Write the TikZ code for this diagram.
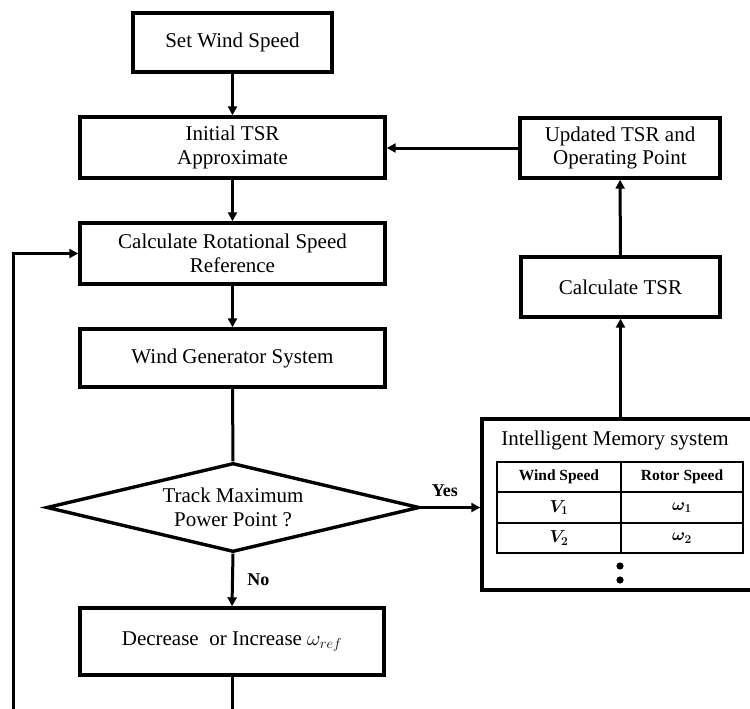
\documentclass[tikz,border=0pt]{standalone}
\usepackage{fontspec}
\setmainfont{Liberation Serif}
\usepackage{bm}
\usetikzlibrary{shapes.geometric,arrows.meta}
\begin{document}
\begin{tikzpicture}[x=1pt,y=-1pt,
  box/.style={draw,line width=3.4pt,inner sep=0pt,align=center,
    font=\fontsize{21}{23.5}\selectfont},
  arr/.style={line width=3pt,-{Triangle[length=9pt,width=9pt]}},
  ln/.style={line width=3pt},
  lbl/.style={font=\fontsize{18}{20}\selectfont\bfseries},
  cell/.style={font=\fontsize{15.5}{18}\selectfont\bfseries},
  grid/.style={line width=2pt}]
\useasboundingbox (0,0) rectangle (750,709);

\node[box,minimum width=199pt,minimum height=59pt] (set) at (232.5,42.5) {Set Wind Speed};
\node[box,minimum width=305pt,minimum height=61pt] (init) at (232.5,147.5) {Initial TSR\\Approximate};
\node[box,minimum width=305pt,minimum height=61pt] (crot) at (232.5,253.5) {Calculate Rotational Speed\\Reference};
\node[box,minimum width=305pt,minimum height=58pt] (wgen) at (232.5,358) {Wind Generator System};
\node[draw,diamond,line width=3.4pt,inner sep=0pt,minimum width=373pt,minimum height=89pt] (dec) at (233,507.5) {};
\node[align=center,font=\fontsize{21}{23.5}\selectfont] (dectxt) at (233,507.5) {Track Maximum\\Power Point ?};
\node[box,minimum width=304pt,minimum height=67pt] (chg) at (232,641.5) {Decrease\ \ or Increase $\omega_{ref}$};

\node[box,minimum width=200pt,minimum height=60pt] (upd) at (620,148) {Updated TSR and\\Operating Point};
\node[box,minimum width=199pt,minimum height=60pt] (ctsr) at (620.5,287) {Calculate TSR};

\node[draw,line width=3.5pt,inner sep=0pt,minimum width=272pt,minimum height=171pt] (mem) at (618,504.5) {};
\node[font=\fontsize{21}{24}\selectfont] (memtitle) at (615,440) {Intelligent Memory system};

% table
\draw[grid] (497,462) rectangle (743,553);
\draw[grid] (497,492) -- (743,492);
\draw[grid] (497,523) -- (743,523);
\draw[grid] (621,462) -- (621,553);
\node[cell] (h1) at (559,477) {Wind Speed};
\node[cell] (h2) at (682,477) {Rotor Speed};
\node[font=\fontsize{17}{18}\selectfont] (v1) at (559,507.5) {$\bm{V_1}$};
\node[font=\fontsize{17}{18}\selectfont] (w1) at (682,507.5) {$\bm{\omega_1}$};
\node[font=\fontsize{17}{18}\selectfont] (v2) at (559,538) {$\bm{V_2}$};
\node[font=\fontsize{17}{18}\selectfont] (w2) at (682,538) {$\bm{\omega_2}$};
\fill (620,566) circle (3.6pt);
\fill (620,580) circle (3.6pt);

% coordinates
\coordinate (bot1) at (232,709);
\coordinate (bot2) at (13,709);
\coordinate (corner) at (13,253.5);

% connectors
\draw[arr] (set) -- (init);
\draw[arr] (init) -- (crot);
\draw[arr] (crot) -- (wgen);
\draw[ln] (wgen.south) -- (dec.north);
\draw[arr] (dec.east) -- (mem.west |- dec.east) node[lbl,pos=0.4,above=6pt] (yes) {Yes};
\draw[arr] (dec.south) -- (chg.north) node[lbl,midway,right=10pt] (no) {No};
\draw[ln] (chg.south) -- (bot1);
\draw[arr] (bot2) -- (corner) -- (crot.west);
\draw[arr] (mem.north -| ctsr.south) -- (ctsr.south);
\draw[arr] (ctsr) -- (upd);
\draw[arr] (upd.west) -- (init.east |- upd.west);
\end{tikzpicture}
\end{document}
